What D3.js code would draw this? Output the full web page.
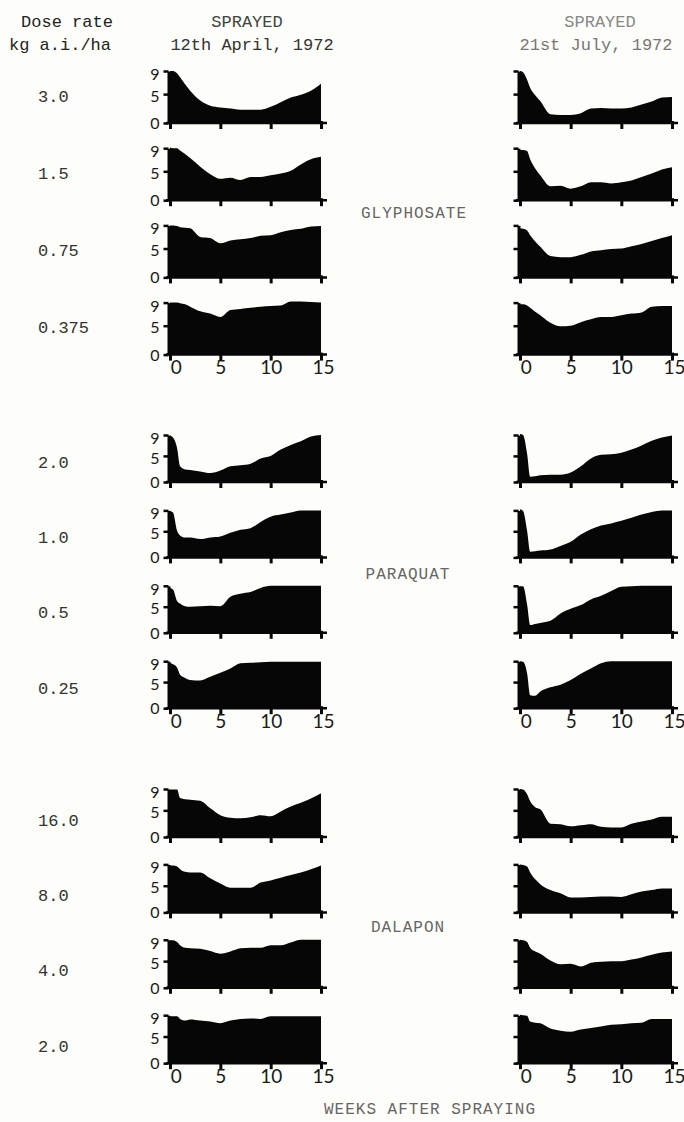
<!DOCTYPE html>
<html>
<head>
<meta charset="utf-8">
<script src="https://cdn.jsdelivr.net/npm/d3@7"></script>
<style>
  html, body { margin: 0; padding: 0; background: #fdfdf9; }
  svg { display: block; }
  .tw { font-family: "Liberation Mono", "DejaVu Sans Mono", monospace; }
  .num { font-family: Lato, "Open Sans", "DejaVu Sans", sans-serif; }
</style>
</head>
<body>
<svg id="chart" width="684" height="1122"></svg>
<script>
// ---------------- DATA ----------------
const weeks = [0, 0.3, 0.7, 1, 1.5, 2, 3, 4, 5, 6, 7, 8, 9, 10, 11, 12, 13, 14, 15];
const xTickValues = [0, 5, 10, 15];
const yTickValues = [0, 5, 9];
const herbicides = ["GLYPHOSATE", "PARAQUAT", "DALAPON"];
const sprayDates = ["12th April, 1972", "21st July, 1972"];

const glyphosateDoses = ["3.0", "1.5", "0.75", "0.375"];
const paraquatDoses = ["2.0", "1.0", "0.5", "0.25"];
const dalaponDoses = ["16.0", "8.0", "4.0", "2.0"];

const glyphosateApril = [
  [9, 9, 8.6, 7.9, 6.7, 5.6, 3.9, 3.0, 2.7, 2.5, 2.3, 2.3, 2.3, 2.8, 3.6, 4.4, 4.9, 5.6, 6.8],
  [9.1, 9, 9, 8.6, 8, 7.3, 5.8, 4.5, 3.7, 3.9, 3.5, 4, 4, 4.3, 4.6, 5.1, 6.2, 7.1, 7.5],
  [9, 9, 8.9, 8.7, 8.6, 8.5, 7, 6.8, 5.9, 6.4, 6.6, 6.8, 7.2, 7.3, 7.8, 8.2, 8.4, 8.8, 8.9],
  [9, 9, 9, 8.9, 8.7, 8.3, 7.5, 7.1, 6.5, 7.7, 7.9, 8.1, 8.3, 8.4, 8.5, 9.2, 9.2, 9.1, 9]
];
const glyphosateJuly = [
  [9, 8.8, 7.5, 6.1, 4.8, 3.8, 1.5, 1.4, 1.4, 1.7, 2.5, 2.6, 2.5, 2.5, 2.7, 3.2, 3.7, 4.4, 4.5],
  [8.7, 8.7, 8.5, 7.1, 5.5, 4.3, 2.4, 2.5, 2.0, 2.4, 3.1, 3.1, 2.9, 3.1, 3.4, 4.0, 4.6, 5.3, 5.7],
  [8.5, 8.4, 8.1, 7.3, 6.2, 5.3, 3.7, 3.5, 3.5, 3.9, 4.5, 4.7, 4.9, 5.0, 5.4, 5.8, 6.3, 6.8, 7.3],
  [8.7, 8.7, 8.5, 8.1, 7.4, 6.8, 5.5, 4.9, 5.0, 5.6, 6.1, 6.5, 6.5, 6.8, 7.1, 7.3, 8.3, 8.4, 8.4]
];
const paraquatApril = [
  [8.9, 8.5, 6.5, 3.0, 2.4, 2.3, 2.0, 1.7, 2.2, 3.0, 3.2, 3.5, 4.5, 5.0, 6.2, 7.1, 7.8, 8.7, 9.0],
  [8.9, 8.6, 5.1, 4.2, 3.8, 3.8, 3.5, 3.8, 4.0, 4.7, 5.3, 5.6, 6.8, 7.8, 8.2, 8.6, 9.0, 9.0, 9.0],
  [8.6, 8.3, 6.1, 5.6, 5.1, 5.0, 5.1, 5.2, 5.1, 6.9, 7.5, 7.8, 8.6, 9.0, 9.0, 9.0, 9.0, 9.0, 9.0],
  [8.7, 8.4, 7.8, 6.4, 5.8, 5.4, 5.3, 6.0, 6.8, 7.6, 8.6, 8.7, 8.8, 8.9, 8.9, 8.9, 8.9, 8.9, 8.9]
];
const paraquatJuly = [
  [9.2, 9.0, 5.4, 1.0, 1.1, 1.3, 1.4, 1.4, 1.8, 3.0, 4.5, 5.2, 5.3, 5.6, 6.2, 7.0, 7.9, 8.5, 8.9],
  [9.2, 8.9, 5.1, 1.1, 1.2, 1.3, 1.5, 2.2, 3.0, 4.4, 5.4, 6.1, 6.5, 7.0, 7.6, 8.2, 8.7, 9.0, 9.0],
  [8.9, 8.9, 5.4, 1.5, 1.7, 1.9, 2.3, 3.7, 4.6, 5.3, 6.4, 7.1, 8.0, 8.8, 8.9, 9.0, 9.0, 9.0, 9.0],
  [9.0, 8.9, 6.7, 2.5, 2.4, 3.2, 4.0, 4.5, 5.4, 6.6, 7.6, 8.6, 9.0, 9.0, 9.0, 9.0, 9.0, 9.0, 9.0]
];
const dalaponApril = [
  [8.9, 8.9, 8.9, 7.3, 7.1, 7.0, 6.8, 5.4, 4.1, 3.6, 3.5, 3.7, 4.1, 3.9, 4.8, 5.7, 6.4, 7.2, 8.2],
  [8.8, 8.8, 8.6, 8.1, 7.6, 7.5, 7.5, 6.4, 5.4, 4.6, 4.6, 4.6, 5.6, 6.0, 6.5, 7.0, 7.5, 8.1, 8.8],
  [8.9, 8.9, 8.6, 8.0, 7.5, 7.4, 7.3, 6.9, 6.4, 6.8, 7.4, 7.5, 7.5, 8.0, 8.0, 8.5, 9.0, 9.0, 9.0],
  [8.8, 8.8, 8.8, 8.3, 8.0, 8.2, 8.0, 7.8, 7.5, 8.0, 8.3, 8.4, 8.3, 8.8, 8.8, 8.8, 8.8, 8.8, 8.8]
];
const dalaponJuly = [
  [9.0, 8.9, 8.0, 6.7, 5.6, 5.2, 2.5, 2.4, 2.0, 2.2, 2.4, 1.9, 1.8, 1.8, 2.5, 2.9, 3.3, 3.8, 3.8],
  [9.0, 8.9, 8.6, 7.5, 6.2, 5.3, 4.2, 3.6, 2.8, 2.8, 2.9, 3.0, 3.0, 2.9, 3.4, 3.9, 4.2, 4.5, 4.5],
  [9.0, 8.9, 8.6, 7.5, 6.8, 6.4, 5.1, 4.4, 4.5, 4.0, 4.7, 4.9, 5.0, 5.0, 5.3, 5.7, 6.2, 6.6, 6.8],
  [9.1, 9.0, 8.9, 7.8, 7.6, 7.5, 6.5, 6.1, 5.9, 6.3, 6.6, 6.9, 7.2, 7.3, 7.5, 7.6, 8.3, 8.3, 8.3]
];

// ---------------- LAYOUT ----------------
const groups = [
  { name: herbicides[0], doses: glyphosateDoses, april: glyphosateApril, july: glyphosateJuly,
    axis0: 123, step: 77.2, h: 52, doseDy: -26, nameX: 414, nameY: 214 },
  { name: herbicides[1], doses: paraquatDoses, april: paraquatApril, july: paraquatJuly,
    axis0: 482, step: 75.4, h: 47, doseDy: -19, nameX: 408, nameY: 575 },
  { name: herbicides[2], doses: dalaponDoses, april: dalaponApril, july: dalaponJuly,
    axis0: 837, step: 75.4, h: 48, doseDy: -16, nameX: 408, nameY: 928 }
];

const xLeft = d3.scaleLinear().domain([0, 15]).range([170, 321]);
const xRight = d3.scaleLinear().domain([0, 15]).range([520, 672]);

const svg = d3.select("#chart");
svg.append("rect").attr("width", 684).attr("height", 1122).attr("fill", "#fdfdf9");

// Headers
const hdr = svg.append("g").attr("class", "tw").attr("font-size", 17);
hdr.append("text").attr("x", 67).attr("y", 27).attr("text-anchor", "middle").attr("fill", "#222").text("Dose rate");
hdr.append("text").attr("x", 60).attr("y", 50).attr("text-anchor", "middle").attr("fill", "#222").text("kg a.i./ha");
hdr.append("text").attr("x", 247).attr("y", 27).attr("text-anchor", "middle").attr("fill", "#444").text("SPRAYED");
hdr.append("text").attr("x", 252).attr("y", 50).attr("text-anchor", "middle").attr("fill", "#333").text(sprayDates[0]);
hdr.append("text").attr("x", 600).attr("y", 27).attr("text-anchor", "middle").attr("fill", "#888").text("SPRAYED");
hdr.append("text").attr("x", 596).attr("y", 50).attr("text-anchor", "middle").attr("fill", "#777").text(sprayDates[1]);

const fill = "#060606";

function drawPanel(g, x, axisY, h, values, showYLabels, showXLabels) {
  const y = d3.scaleLinear().domain([0, 9]).range([axisY, axisY - h]);
  const yLab = d3.scaleLinear().domain([0, 9]).range([axisY - 1, axisY - h + 2]);
  const pts = weeks.map((w, i) => [w, values[i]]);
  const area = d3.area()
    .x(d => x(d[0]))
    .y0(axisY)
    .y1(d => y(d[1]))
    .curve(d3.curveMonotoneX);
  g.append("path").attr("d", area(pts)).attr("fill", fill);

  // y axis
  const yAxis = d3.axisLeft(y).tickValues(yTickValues).tickSize(5).tickSizeOuter(0)
    .tickFormat(showYLabels ? d3.format("d") : () => "");
  const ya = g.append("g").attr("transform", `translate(${x(0) - 1.5},0)`).call(yAxis);
  ya.select(".domain").attr("stroke", fill).attr("stroke-width", 3);
  ya.selectAll(".tick line").attr("stroke", fill).attr("stroke-width", 2.5);
  ya.selectAll(".tick text")
    .attr("class", "num").attr("font-size", 16).attr("fill", "#1a1a1a")
    .attr("x", -9)
    .attr("dy", d => (yLab(d) - y(d)) + "px")
    .attr("dominant-baseline", "central");

  // x axis
  const xAxis = d3.axisBottom(x).tickValues(xTickValues).tickSize(6).tickSizeOuter(0)
    .tickFormat(showXLabels ? d3.format("d") : () => "");
  const xa = g.append("g").attr("transform", `translate(0,${axisY})`).call(xAxis);
  xa.select(".domain").attr("stroke", fill).attr("stroke-width", 2.5)
    .attr("d", `M${x(0) - 4},0H${x(15) + 6}`);
  xa.selectAll(".tick line").attr("stroke", fill).attr("stroke-width", 3).attr("y1", -2);
  xa.selectAll(".tick text")
    .attr("class", "num").attr("font-size", 19).attr("fill", "#1a1a1a")
    .attr("y", 6)
    .attr("dx", d => d === 0 ? "0.3em" : d === 15 ? "0.1em" : 0);
}

groups.forEach(gr => {
  const gg = svg.append("g");
  gr.doses.forEach((dose, i) => {
    const axisY = gr.axis0 + i * gr.step;
    const last = i === gr.doses.length - 1;
    drawPanel(gg, xLeft, axisY, gr.h, gr.april[i], true, last);
    drawPanel(gg, xRight, axisY, gr.h, gr.july[i], false, last);
    gg.append("text").attr("class", "tw").attr("font-size", 17).attr("fill", "#333")
      .attr("x", 38).attr("y", axisY + gr.doseDy).attr("dominant-baseline", "central")
      .text(dose);
  });
  gg.append("text").attr("class", "tw").attr("font-size", 16).attr("fill", "#666")
    .attr("letter-spacing", 1)
    .attr("x", gr.nameX).attr("y", gr.nameY).attr("text-anchor", "middle").attr("dominant-baseline", "central")
    .text(gr.name);
});

svg.append("text").attr("class", "tw").attr("font-size", 16).attr("fill", "#666")
  .attr("letter-spacing", 1)
  .attr("x", 430).attr("y", 1110).attr("text-anchor", "middle").attr("dominant-baseline", "central")
  .text("WEEKS AFTER SPRAYING");
</script>
</body>
</html>
